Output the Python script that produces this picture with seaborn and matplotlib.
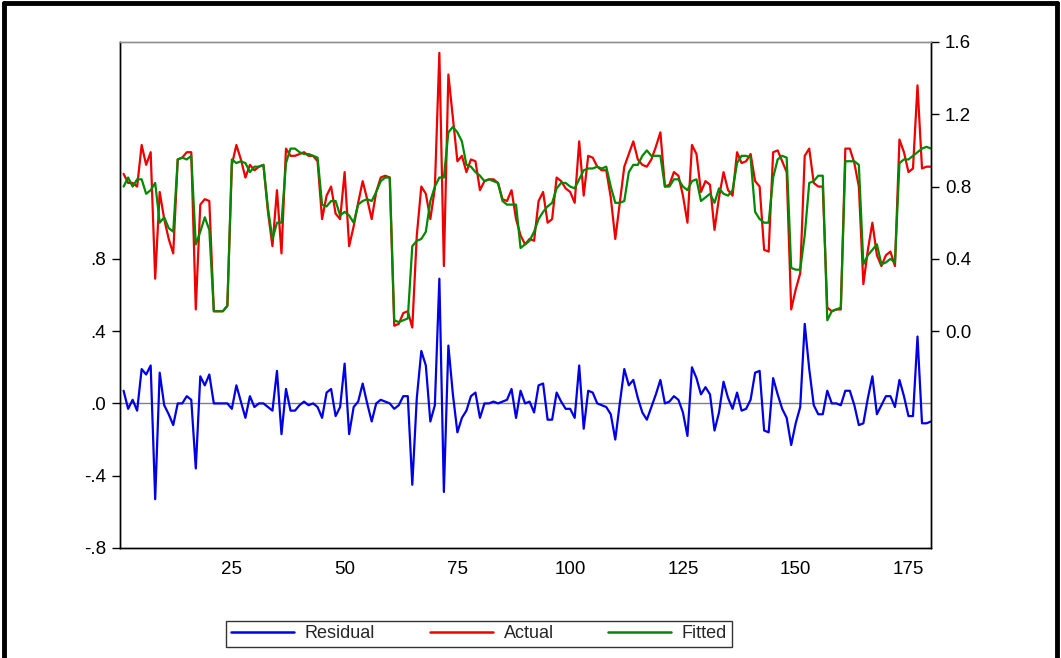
import numpy as np
import pandas as pd
import seaborn as sns
import matplotlib.pyplot as plt
from matplotlib.lines import Line2D

# gözlem numaraları 1..180
obs = list(range(1, 181))

actual = [0.87, 0.82, 0.82, 0.80, 1.03, 0.92, 0.99, 0.29, 0.77, 0.62,
          0.51, 0.43, 0.95, 0.96, 0.99, 0.99, 0.12, 0.70, 0.73, 0.72,
          0.11, 0.11, 0.11, 0.14, 0.92, 1.03, 0.95, 0.85, 0.92, 0.89,
          0.91, 0.92, 0.66, 0.47, 0.78, 0.43, 1.01, 0.97, 0.97, 0.98,
          0.99, 0.97, 0.97, 0.94, 0.62, 0.75, 0.80, 0.65, 0.62, 0.88,
          0.47, 0.58, 0.71, 0.83, 0.73, 0.62, 0.77, 0.85, 0.86, 0.85,
          0.03, 0.04, 0.10, 0.11, 0.02, 0.53, 0.80, 0.76, 0.62, 0.79,
          1.54, 0.36, 1.42, 1.18, 0.94, 0.97, 0.88, 0.95, 0.94, 0.78,
          0.83, 0.84, 0.84, 0.82, 0.73, 0.72, 0.78, 0.62, 0.53, 0.48,
          0.51, 0.50, 0.72, 0.77, 0.60, 0.62, 0.85, 0.83, 0.79, 0.77,
          0.71, 1.05, 0.75, 0.97, 0.96, 0.91, 0.89, 0.89, 0.74, 0.51,
          0.71, 0.91, 0.98, 1.05, 0.95, 0.92, 0.91, 0.95, 1.02, 1.10,
          0.80, 0.81, 0.88, 0.86, 0.75, 0.60, 1.03, 0.98, 0.77, 0.83,
          0.81, 0.56, 0.74, 0.88, 0.78, 0.75, 0.99, 0.93, 0.94, 0.98,
          0.83, 0.80, 0.45, 0.44, 0.99, 1.00, 0.94, 0.88, 0.12, 0.23,
          0.32, 0.97, 1.01, 0.82, 0.80, 0.80, 0.13, 0.11, 0.12, 0.12,
          1.01, 1.01, 0.93, 0.80, 0.26, 0.45, 0.60, 0.42, 0.36, 0.42,
          0.44, 0.36, 1.06, 0.99, 0.88, 0.90, 1.36, 0.90, 0.91, 0.91]

fitted = [0.80, 0.85, 0.80, 0.84, 0.84, 0.76, 0.78, 0.82, 0.60, 0.63,
          0.57, 0.55, 0.95, 0.96, 0.95, 0.97, 0.48, 0.55, 0.63, 0.56,
          0.11, 0.11, 0.11, 0.14, 0.95, 0.93, 0.94, 0.93, 0.88, 0.91,
          0.91, 0.92, 0.68, 0.51, 0.60, 0.60, 0.93, 1.01, 1.01, 0.99,
          0.98, 0.98, 0.97, 0.96, 0.70, 0.69, 0.72, 0.72, 0.64, 0.66,
          0.64, 0.60, 0.70, 0.72, 0.73, 0.72, 0.77, 0.83, 0.85, 0.85,
          0.06, 0.05, 0.06, 0.07, 0.47, 0.50, 0.51, 0.55, 0.72, 0.80,
          0.85, 0.85, 1.10, 1.13, 1.10, 1.05, 0.92, 0.91, 0.88, 0.86,
          0.83, 0.84, 0.83, 0.82, 0.72, 0.70, 0.70, 0.70, 0.46, 0.48,
          0.50, 0.55, 0.62, 0.66, 0.69, 0.71, 0.79, 0.82, 0.82, 0.80,
          0.79, 0.84, 0.89, 0.90, 0.90, 0.91, 0.90, 0.91, 0.80, 0.71,
          0.71, 0.72, 0.88, 0.92, 0.92, 0.97, 1.00, 0.97, 0.97, 0.97,
          0.80, 0.80, 0.84, 0.84, 0.80, 0.78, 0.83, 0.84, 0.72, 0.74,
          0.76, 0.71, 0.79, 0.76, 0.75, 0.78, 0.93, 0.97, 0.97, 0.96,
          0.66, 0.62, 0.60, 0.60, 0.85, 0.95, 0.97, 0.96, 0.35, 0.34,
          0.34, 0.53, 0.82, 0.83, 0.86, 0.86, 0.06, 0.11, 0.12, 0.13,
          0.94, 0.94, 0.94, 0.92, 0.37, 0.42, 0.45, 0.48, 0.37, 0.38,
          0.40, 0.38, 0.93, 0.95, 0.95, 0.97, 0.99, 1.01, 1.02, 1.01]

residual = [0.07, -0.03, 0.02, -0.04, 0.19, 0.16, 0.21, -0.53, 0.17, -0.01,
            -0.06, -0.12, 0.00, 0.00, 0.04, 0.02, -0.36, 0.15, 0.10, 0.16,
            0.00, 0.00, 0.00, 0.00, -0.03, 0.10, 0.01, -0.08, 0.04, -0.02,
            0.00, 0.00, -0.02, -0.04, 0.18, -0.17, 0.08, -0.04, -0.04, -0.01,
            0.01, -0.01, 0.00, -0.02, -0.08, 0.06, 0.08, -0.07, -0.02, 0.22,
            -0.17, -0.02, 0.01, 0.11, 0.00, -0.10, 0.00, 0.02, 0.01, 0.00,
            -0.03, -0.01, 0.04, 0.04, -0.45, 0.03, 0.29, 0.21, -0.10, -0.01,
            0.69, -0.49, 0.32, 0.05, -0.16, -0.08, -0.04, 0.04, 0.06, -0.08,
            0.00, 0.00, 0.01, 0.00, 0.01, 0.02, 0.08, -0.08, 0.07, 0.00,
            0.01, -0.05, 0.10, 0.11, -0.09, -0.09, 0.06, 0.01, -0.03, -0.03,
            -0.08, 0.21, -0.14, 0.07, 0.06, 0.00, -0.01, -0.02, -0.06, -0.20,
            0.00, 0.19, 0.10, 0.13, 0.03, -0.05, -0.09, -0.02, 0.05, 0.13,
            0.00, 0.01, 0.04, 0.02, -0.05, -0.18, 0.20, 0.14, 0.05, 0.09,
            0.05, -0.15, -0.05, 0.12, 0.03, -0.03, 0.06, -0.04, -0.03, 0.02,
            0.17, 0.18, -0.15, -0.16, 0.14, 0.05, -0.03, -0.08, -0.23, -0.11,
            -0.02, 0.44, 0.19, -0.01, -0.06, -0.06, 0.07, 0.00, 0.00, -0.01,
            0.07, 0.07, -0.01, -0.12, -0.11, 0.03, 0.15, -0.06, -0.01, 0.04,
            0.04, -0.02, 0.13, 0.04, -0.07, -0.07, 0.37, -0.11, -0.11, -0.10]

x_ticks = [25, 50, 75, 100, 125, 150, 175]
left_ticks = [-0.8, -0.4, 0.0, 0.4, 0.8]
left_labels = ["-.8", "-.4", ".0", ".4", ".8"]
right_ticks = [0.0, 0.4, 0.8, 1.2, 1.6]
right_labels = ["0.0", "0.4", "0.8", "1.2", "1.6"]

df = pd.DataFrame({"obs": obs, "Residual": residual, "Actual": actual, "Fitted": fitted})

sns.set_style("white")
plt.rcParams['font.family'] = ['Liberation Sans', 'DejaVu Sans']

renk_res = "#0000E6"
renk_act = "#EE0000"
renk_fit = "#008A00"

fig = plt.figure(figsize=(10.61, 6.58), dpi=100)
ax = fig.add_axes([0.1131, 0.1672, 0.7644, 0.7690])
ax2 = ax.twinx()

# sol eksen: residual, sağ eksen: actual + fitted
ax.axhline(0, color="#808080", lw=1.0, zorder=1)
sns.lineplot(data=df, x="obs", y="Residual", ax=ax, color=renk_res, lw=1.6, legend=False)
sns.lineplot(data=df, x="obs", y="Actual", ax=ax2, color=renk_act, lw=1.6, legend=False)
sns.lineplot(data=df, x="obs", y="Fitted", ax=ax2, color=renk_fit, lw=1.6, legend=False)

ax.set_xlim(0.2, 180)
ax.set_ylim(-0.8, 2.0)
ax2.set_ylim(-1.2, 1.6)
ax.set_xticks(x_ticks)
ax.set_xticklabels([str(t) for t in x_ticks])
ax.set_yticks(left_ticks)
ax.set_yticklabels(left_labels)
ax2.set_yticks(right_ticks)
ax2.set_yticklabels(right_labels)
ax.set_xlabel("")
ax.set_ylabel("")
ax2.set_ylabel("")

for a in (ax, ax2):
    for s in a.spines.values():
        s.set_color("black")
        s.set_linewidth(1.0)
    a.spines["top"].set_color("#909090")
    a.tick_params(direction="out", length=6, width=1, labelsize=13.5, colors="black")
ax.tick_params(axis="y", pad=4)
ax2.tick_params(axis="y", pad=4)

handles = [Line2D([], [], color=renk_res, lw=1.8),
           Line2D([], [], color=renk_act, lw=1.8),
           Line2D([], [], color=renk_fit, lw=1.8)]
leg = fig.legend(handles, ["Residual", "Actual", "Fitted"], ncol=3, loc="center",
                 bbox_to_anchor=(0.4515, 0.0365), frameon=True, fancybox=False,
                 edgecolor="black", fontsize=13, handlelength=3.5, columnspacing=3.0,
                 borderpad=0.25, handletextpad=0.6)
leg.get_frame().set_linewidth(1.0)

# dış çerçeve (alt kenar görüntüde yok)
for xs, ys in [([0.004, 0.004], [0.0, 0.996]),
               ([0.004, 0.996], [0.996, 0.996]),
               ([0.996, 0.996], [0.0, 0.996])]:
    fig.add_artist(Line2D(xs, ys, transform=fig.transFigure, color="black", lw=3.5))

fig.savefig("out.png", dpi=100)
